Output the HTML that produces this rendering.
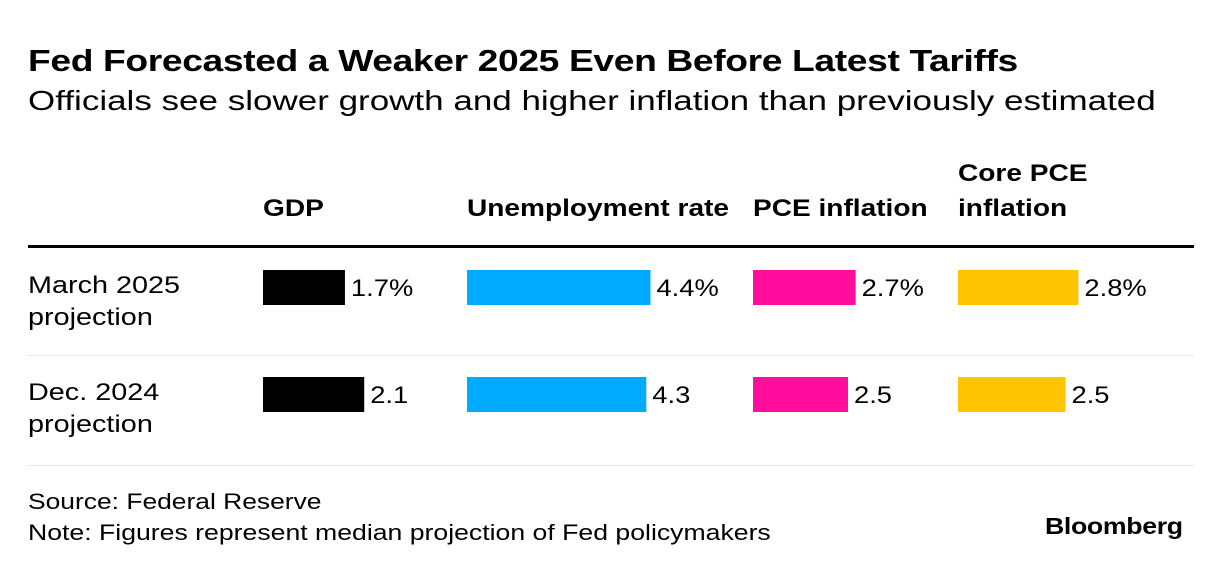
<!DOCTYPE html>
<html><head><meta charset="utf-8"><style>
body{margin:0;background:#fff;font-family:"Liberation Sans",sans-serif;color:#000}
#c{position:relative;width:1222px;height:572px;overflow:hidden}
.t{position:absolute;white-space:nowrap;transform-origin:0 0}
</style></head><body>
<div id="c">
<div class="t" style="left:28px;top:43px;font-size:31px;font-weight:bold;letter-spacing:-0.3px;transform:scaleX(1.2)">Fed Forecasted a Weaker 2025 Even Before Latest Tariffs</div>
<div class="t" style="left:28px;top:85px;font-size:28px;transform:scaleX(1.25)">Officials see slower growth and higher inflation than previously estimated</div>
<svg id="s" width="1222" height="572" style="position:absolute;left:0;top:0"></svg>
<div class="t" style="left:28px;top:489px;font-size:22px;transform:scaleX(1.2)">Source: Federal Reserve</div>
<div class="t" style="left:28px;top:520px;font-size:22px;transform:scaleX(1.21)">Note: Figures represent median projection of Fed policymakers</div>
<div class="t" style="left:1045px;top:513px;font-size:23px;font-weight:bold;letter-spacing:-0.3px;transform:scaleX(1.16)">Bloomberg</div>
</div>
<script>
const columns=["GDP","Unemployment rate","PCE inflation","Core PCE inflation"];
const rows=["March 2025|projection","Dec. 2024|projection"];
const march=[1.7,4.4,2.7,2.8];
const dec=[2.1,4.3,2.5,2.5];
const marchLabels=["1.7%","4.4%","2.7%","2.8%"];
const decLabels=["2.1","4.3","2.5","2.5"];
const colors=["#000000","#00aaff","#ff0d9c","#ffc400"];
const colX=[263,467,753,958];
const colScale=[48.2,41.7,38,43];
const ns="http://www.w3.org/2000/svg";
const s=document.getElementById('s');
function mk(t,a){const e=document.createElementNS(ns,t);for(const k in a)e.setAttribute(k,a[k]);s.appendChild(e);return e;}
function sx(e,x,k){e.setAttribute('transform','translate('+x+',0) scale('+k+',1) translate('+(-x)+',0)');}
let l=mk('rect',{x:28,y:245,width:1166,height:3,fill:'#000'});


[355,465].forEach((y,i)=>{const r=mk('rect',{x:28,y:y,width:1166,height:1,fill:'#e6e6e6'});

});
columns.forEach((c,i)=>{
  const parts=c==="Core PCE inflation"?["Core PCE","inflation"]:[c];
  parts.forEach((p,j)=>{const t=mk('text',{x:colX[i],y:216-(parts.length-1-j)*35,'font-size':24,'font-weight':'bold'});t.textContent=p;sx(t,colX[i],1.17);
  
  });
});
const series=[march,dec],labels=[marchLabels,decLabels],rowY=[270,377];
rows.forEach((r,ri)=>{
  r.split('|').forEach((p,j)=>{const t=mk('text',{x:28,y:rowY[ri]+23+j*32,'font-size':24});t.textContent=p;sx(t,28,1.2);
  
  });
  series[ri].forEach((v,ci)=>{
    const w=v*colScale[ci];
    const b=mk('rect',{x:colX[ci],y:rowY[ri],width:w,height:35,fill:colors[ci]});
    
    
    const tx=colX[ci]+w+6;
    const t=mk('text',{x:tx,y:rowY[ri]+26,'font-size':24});t.textContent=labels[ri][ci];sx(t,tx,1.14);
    
    
  });
});
</script>
</body></html>
